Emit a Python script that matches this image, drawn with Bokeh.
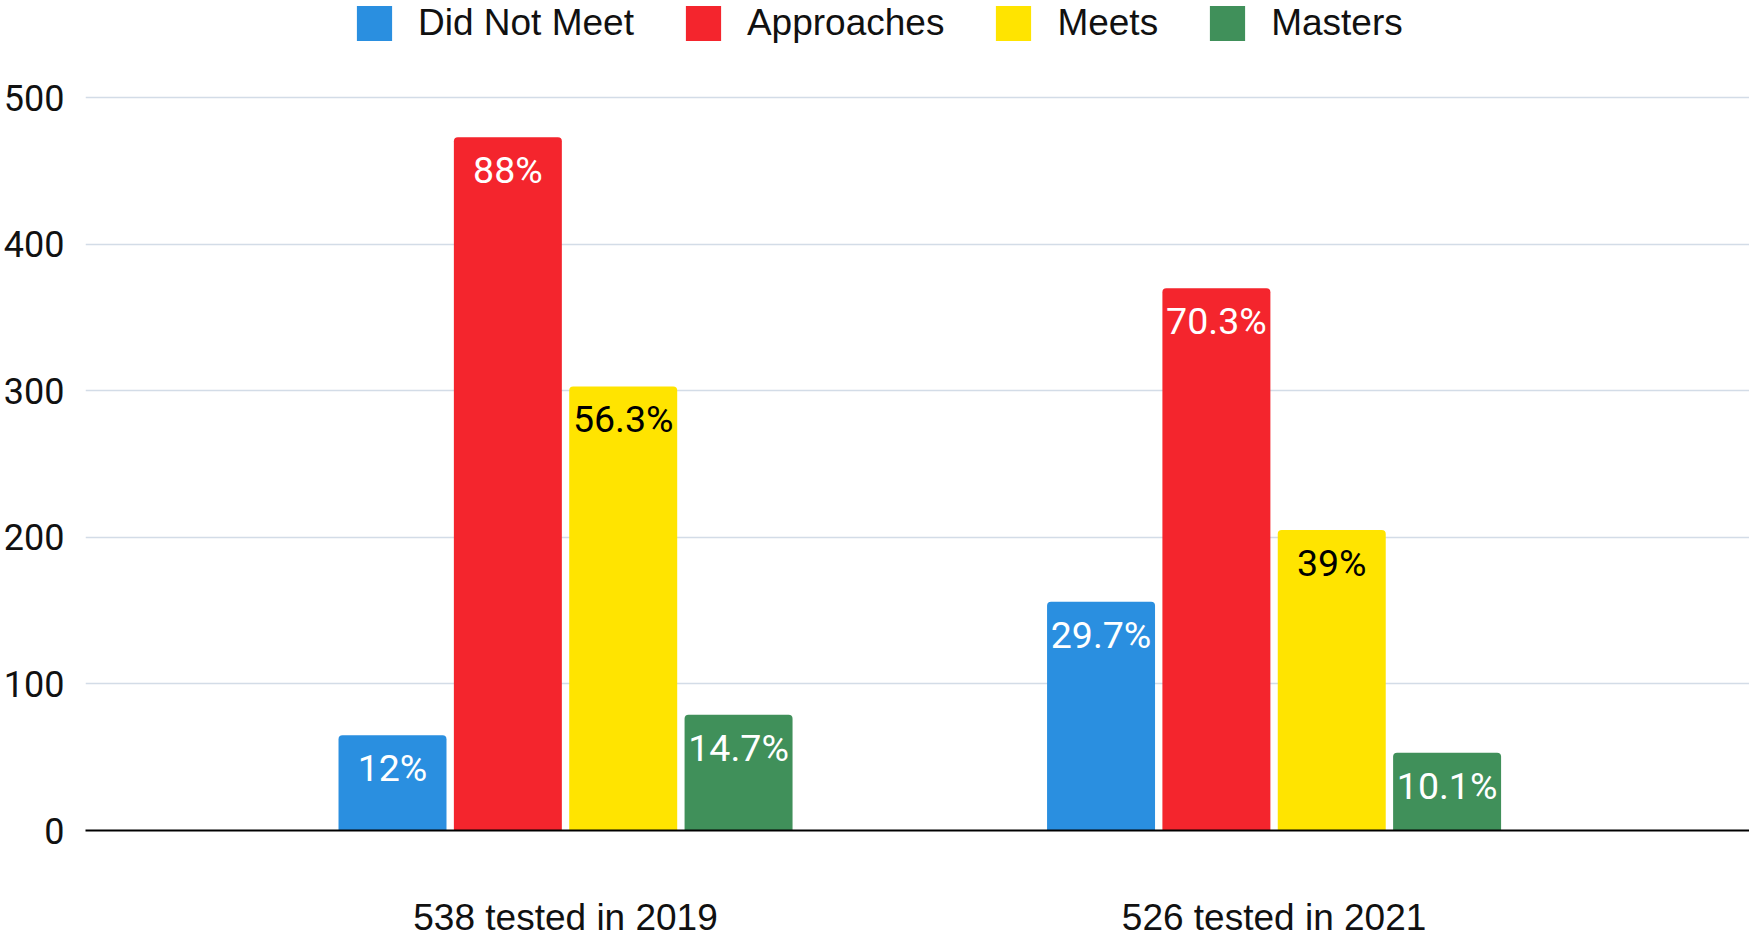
from bokeh.plotting import figure
from bokeh.models import ColumnDataSource, Range1d, FixedTicker, Legend, LegendItem
from bokeh.transform import dodge
from bokeh.core.properties import value
from bokeh.embed import file_html
from bokeh.resources import INLINE

groups = ["538 tested in 2019", "526 tested in 2021"]
series = ["Did Not Meet", "Approaches", "Meets", "Masters"]
did_not_meet = [65, 156]
approaches = [473, 370]
meets = [303, 205]
masters = [79, 53]
did_not_meet_pct = ["12%", "29.7%"]
approaches_pct = ["88%", "70.3%"]
meets_pct = ["56.3%", "39%"]
masters_pct = ["14.7%", "10.1%"]
y_ticks = [0, 100, 200, 300, 400, 500]

colors = ["#2a8fe0", "#f4252d", "#ffe400", "#40905a"]
text_colors = ["white", "white", "black", "white"]

values = [did_not_meet, approaches, meets, masters]
pcts = [did_not_meet_pct, approaches_pct, meets_pct, masters_pct]

data = {"x": list(range(len(groups)))}
for i, s in enumerate(series):
    data[f"v{i}"] = values[i]
    data[f"t{i}"] = pcts[i]
src = ColumnDataSource(data)

p = figure(width=1749, height=940, output_backend="svg", toolbar_location=None,
           x_range=Range1d(-0.6775, 1.671), y_range=Range1d(0, 566.3),
           min_border_left=85, min_border_right=0, min_border_top=0, min_border_bottom=0)
p.outline_line_color = None
p.background_fill_color = "white"
p.border_fill_color = "white"

pitch = 0.1628
bw = 0.1524
items = []
for i, s in enumerate(series):
    off = (i - (len(series) - 1) / 2) * pitch
    r = p.vbar(x=dodge("x", off, range=p.x_range), top=f"v{i}", width=bw, bottom=0,
               source=src, fill_color=colors[i], line_color=None,
               border_radius=(4, 4, 0, 0))
    items.append(LegendItem(label=s, renderers=[r]))
    p.text(x=dodge("x", off, range=p.x_range), y=f"v{i}", text=f"t{i}", source=src,
           text_align="center", text_baseline="top", y_offset=11,
           text_font=value("Roboto"), text_font_size="37.5px", text_color=text_colors[i])

legend = Legend(items=items, orientation="horizontal", location=(267, 785),
                glyph_width=44, glyph_height=44, label_standoff=22, spacing=47,
                label_text_font="Liberation Sans", label_text_font_size="37px",
                label_text_color="#111111", padding=0, margin=0,
                border_line_color=None, background_fill_alpha=0)
p.add_layout(legend)

p.xgrid.grid_line_color = None
p.ygrid.grid_line_color = "#d3dce7"
p.ygrid.grid_line_width = 1.5
p.ygrid.ticker = FixedTicker(ticks=y_ticks)

p.yaxis.ticker = FixedTicker(ticks=y_ticks)
p.yaxis.axis_line_color = None
p.yaxis.major_tick_line_color = None
p.yaxis.minor_tick_line_color = None
p.yaxis.major_label_standoff = 15
p.yaxis.major_label_text_font = "Roboto"
p.yaxis.major_label_text_font_size = "36px"
p.yaxis.major_label_text_color = "#111111"

p.xaxis.ticker = FixedTicker(ticks=list(range(len(groups))))
p.xaxis.major_label_overrides = {i: g for i, g in enumerate(groups)}
p.xaxis.axis_line_color = "black"
p.xaxis.axis_line_width = 2
p.xaxis.major_tick_line_color = None
p.xaxis.minor_tick_line_color = None
p.xaxis.major_label_standoff = 60
p.xaxis.major_label_text_font = "Liberation Sans"
p.xaxis.major_label_text_font_size = "37px"
p.xaxis.major_label_text_color = "#111111"

open("out.html", "w").write(file_html(p, INLINE))
